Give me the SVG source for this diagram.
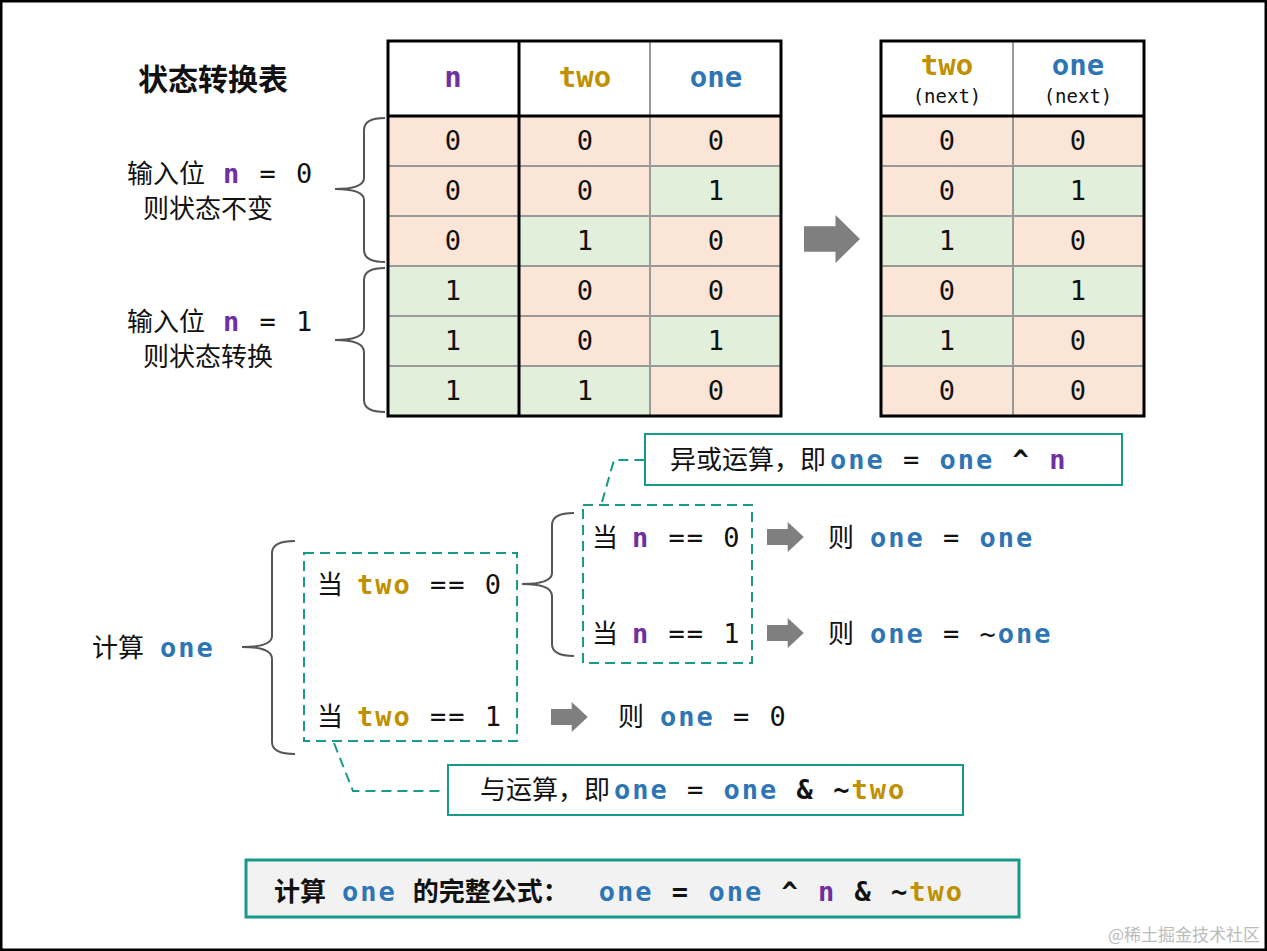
<svg xmlns="http://www.w3.org/2000/svg" width="1267" height="951" viewBox="0 0 1267 951">
<style>
text{font-family:"Noto Sans CJK SC","DejaVu Sans",sans-serif;font-size:26px;fill:#111;white-space:pre}
.m{font-family:"DejaVu Sans Mono","Liberation Mono","Noto Sans CJK SC",monospace;font-size:27px;letter-spacing:2px}
.h{font-size:29px}
.s{font-size:19px}
.b{font-weight:bold}
.pu{fill:#7030A0;font-weight:bold}
.go{fill:#BF9000;font-weight:bold}
.bl{fill:#2E75B6;font-weight:bold}
.P{fill:#FBE5D6}
.G{fill:#E2EFDA}
.g{stroke:#999;stroke-width:2}
.k{stroke:#000;stroke-width:3;fill:none}
.br{fill:none;stroke:#555;stroke-width:2}
.dash{fill:none;stroke:#179A8A;stroke-width:2;stroke-dasharray:10 6}
.box{fill:#fff;stroke:#179A8A;stroke-width:2}
.c{text-anchor:middle;letter-spacing:0}
</style>
<defs>
<polygon id="arr" points="0,-8 18,-8 18,-15 32,0 18,15 18,8 0,8" fill="#7F7F7F"/>
</defs>
<rect x="1" y="1" width="1265" height="949" fill="#fff" stroke="#000" stroke-width="3"/>

<g id="title"><text x="138" y="90" class="b" style="font-size:30px">状态转换表</text></g>

<g id="table1">
<rect x="388" y="41" width="393" height="75" fill="#fff"/>
<rect class="P" x="388" y="116" width="131" height="150"/>
<rect class="G" x="388" y="266" width="131" height="150"/>
<rect class="P" x="519" y="116" width="131" height="100"/>
<rect class="G" x="519" y="216" width="131" height="50"/>
<rect class="P" x="519" y="266" width="131" height="100"/>
<rect class="G" x="519" y="366" width="131" height="50"/>
<rect class="P" x="650" y="116" width="131" height="300"/>
<rect class="G" x="650" y="166" width="131" height="50"/>
<rect class="G" x="650" y="316" width="131" height="50"/>
<path class="g" d="M388 166H781M388 216H781M388 266H781M388 316H781M388 366H781M650 41V416"/>
<path class="k" d="M388 41H781V416H388ZM519 41V416M388 116H781"/>
<text class="m h pu c" x="453" y="87">n</text>
<text class="m h go c" x="585" y="87">two</text>
<text class="m h bl c" x="716" y="87">one</text>
<text class="m c" x="453" y="150">0</text><text class="m c" x="585" y="150">0</text><text class="m c" x="716" y="150">0</text>
<text class="m c" x="453" y="200">0</text><text class="m c" x="585" y="200">0</text><text class="m c" x="716" y="200">1</text>
<text class="m c" x="453" y="250">0</text><text class="m c" x="585" y="250">1</text><text class="m c" x="716" y="250">0</text>
<text class="m c" x="453" y="300">1</text><text class="m c" x="585" y="300">0</text><text class="m c" x="716" y="300">0</text>
<text class="m c" x="453" y="350">1</text><text class="m c" x="585" y="350">0</text><text class="m c" x="716" y="350">1</text>
<text class="m c" x="453" y="400">1</text><text class="m c" x="585" y="400">1</text><text class="m c" x="716" y="400">0</text>
</g>

<g id="table2">
<rect x="881" y="41" width="263" height="75" fill="#fff"/>
<rect class="P" x="881" y="116" width="132" height="100"/>
<rect class="G" x="881" y="216" width="132" height="50"/>
<rect class="P" x="881" y="266" width="132" height="50"/>
<rect class="G" x="881" y="316" width="132" height="50"/>
<rect class="P" x="881" y="366" width="132" height="50"/>
<rect class="P" x="1013" y="116" width="131" height="50"/>
<rect class="G" x="1013" y="166" width="131" height="50"/>
<rect class="P" x="1013" y="216" width="131" height="50"/>
<rect class="G" x="1013" y="266" width="131" height="50"/>
<rect class="P" x="1013" y="316" width="131" height="100"/>
<path class="g" d="M881 166H1144M881 216H1144M881 266H1144M881 316H1144M881 366H1144M1013 41V416"/>
<path class="k" d="M881 41H1144V416H881ZM881 116H1144"/>
<text class="m h go c" x="947" y="75">two</text>
<text class="m h bl c" x="1078" y="75">one</text>
<text class="m s c" x="947" y="103">(next)</text>
<text class="m s c" x="1078" y="103">(next)</text>
<text class="m c" x="947" y="150">0</text><text class="m c" x="1078" y="150">0</text>
<text class="m c" x="947" y="200">0</text><text class="m c" x="1078" y="200">1</text>
<text class="m c" x="947" y="250">1</text><text class="m c" x="1078" y="250">0</text>
<text class="m c" x="947" y="300">0</text><text class="m c" x="1078" y="300">1</text>
<text class="m c" x="947" y="350">1</text><text class="m c" x="1078" y="350">0</text>
<text class="m c" x="947" y="400">0</text><text class="m c" x="1078" y="400">0</text>
</g>

<g id="connectors">
<use href="#arr" transform="translate(804,239) scale(1.75,1.6)"/>
<path class="br" d="M385 118Q364 118 364 130V178Q364 189 335 189Q364 189 364 200V250Q364 262 385 262"/>
<path class="br" d="M385 268Q364 268 364 280V328Q364 340 335 340Q364 340 364 352V400Q364 412 385 412"/>
<path class="br" d="M295 541Q272 541 272 553V636Q272 647 242 647Q272 647 272 659V742Q272 754 295 754"/>
<path class="br" d="M574 513Q552 513 552 525V573Q552 584 522 584Q552 584 552 596V644Q552 656 574 656"/>
<use href="#arr" transform="translate(767,537) scale(1.15,1)"/>
<use href="#arr" transform="translate(767,633) scale(1.15,1)"/>
<use href="#arr" transform="translate(551,717) scale(1.15,1)"/>
<path class="dash" d="M602 502L614 460H645"/>
<path class="dash" d="M334 743L353 791H445"/>
</g>

<g id="label-n0"><text x="127" y="183">输入位<tspan class="m pu" dx="18">n</tspan><tspan class="m"> = 0</tspan></text><text x="143" y="218">则状态不变</text></g>
<g id="label-n1"><text x="127" y="331">输入位<tspan class="m pu" dx="18">n</tspan><tspan class="m"> = 1</tspan></text><text x="143" y="366">则状态转换</text></g>

<g id="calc-one"><text x="92" y="657">计算<tspan class="m bl" dx="16">one</tspan></text></g>

<g id="two-box">
<rect class="dash" x="304" y="553" width="213" height="188"/>
<text x="317" y="594">当<tspan class="m go" dx="14">two</tspan><tspan class="m"> == 0</tspan></text>
<text x="317" y="726">当<tspan class="m go" dx="14">two</tspan><tspan class="m"> == 1</tspan></text>
</g>
<g id="n-box">
<rect class="dash" x="583" y="505" width="169" height="158"/>
<text x="592" y="547">当<tspan class="m pu" dx="14">n</tspan><tspan class="m"> == 0</tspan></text>
<text x="592" y="643">当<tspan class="m pu" dx="14">n</tspan><tspan class="m"> == 1</tspan></text>
</g>
<g id="res1"><text x="828" y="547">则<tspan class="m bl" dx="16">one</tspan><tspan class="m"> = </tspan><tspan class="m bl">one</tspan></text></g>
<g id="res2"><text x="828" y="643">则<tspan class="m bl" dx="16">one</tspan><tspan class="m"> = ~</tspan><tspan class="m bl">one</tspan></text></g>
<g id="res3"><text x="618" y="726">则<tspan class="m bl" dx="16">one</tspan><tspan class="m"> = 0</tspan></text></g>

<g id="xor-box">
<rect class="box" x="645" y="434" width="477" height="51"/>
<text x="670" y="469">异或运算，即<tspan class="m bl" dx="4">one</tspan><tspan class="m"> = </tspan><tspan class="m bl">one</tspan><tspan class="m b"> ^ </tspan><tspan class="m pu">n</tspan></text>
</g>
<g id="and-box">
<rect class="box" x="448" y="765" width="515" height="50"/>
<text x="480" y="799">与运算，即<tspan class="m bl" dx="4">one</tspan><tspan class="m"> = </tspan><tspan class="m bl">one</tspan><tspan class="m b"> &amp; ~</tspan><tspan class="m go">two</tspan></text>
</g>
<g id="formula">
<rect x="246" y="860" width="773" height="57" fill="#F2F2F2" stroke="#179A8A" stroke-width="3"/>
<text x="274" y="901" class="b">计算<tspan class="m bl" dx="16">one</tspan><tspan dx="16">的完整公式：</tspan><tspan class="m bl" dx="30">one</tspan><tspan class="m"> = </tspan><tspan class="m bl">one</tspan><tspan class="m b"> ^ </tspan><tspan class="m pu">n</tspan><tspan class="m b"> &amp; ~</tspan><tspan class="m go">two</tspan></text>
</g>
<text x="1260" y="941" text-anchor="end" style="font-size:17px;fill:#bbb">@稀土掘金技术社区</text>
</svg>
